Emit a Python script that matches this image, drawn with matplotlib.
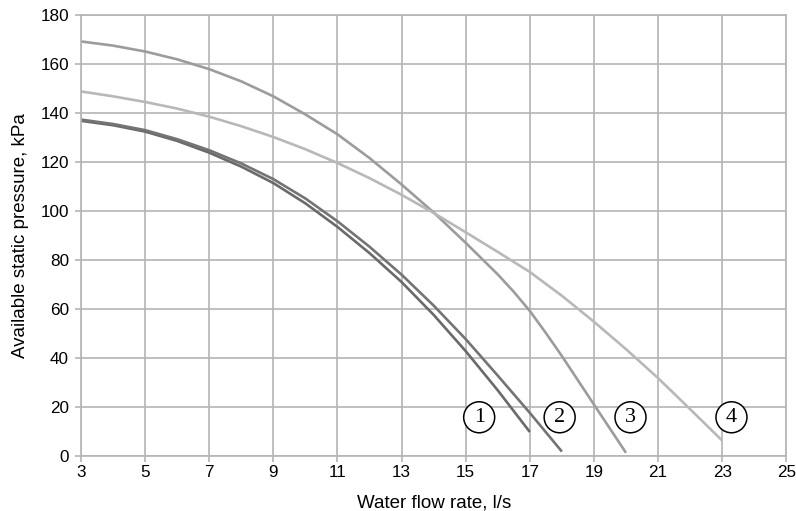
import matplotlib
matplotlib.use("Agg")
import matplotlib.pyplot as plt

# Caudal de agua (l/s) y presion estatica disponible (kPa)
flow_1 = [3, 4, 5, 6, 7, 8, 9, 10, 11, 12, 13, 14, 15, 16, 17]
pres_1 = [137, 135.2, 132.6, 128.8, 124, 118.3, 111.6, 103.3, 93.7, 83, 71.2, 57.8, 43, 27, 10]

flow_2 = [3, 4, 5, 6, 7, 8, 9, 10, 11, 12, 13, 14, 15, 16, 17, 18]
pres_2 = [137.5, 135.7, 133.2, 129.5, 125, 119.6, 113.2, 105.3, 96, 85.6, 74.2, 61.6, 47.9,
          33, 17.8, 2]

flow_3 = [3, 4, 5, 6, 7, 8, 9, 10, 11, 12, 13, 14, 15, 16, 16.5, 17, 17.5, 18, 19, 20]
pres_3 = [169.4, 167.7, 165.3, 162.1, 158.1, 153.1, 147, 139.6, 131.5, 121.8, 111, 99.6, 87.2,
          74.3, 67.2, 59.4, 50.4, 41, 21.2, 1.5]

flow_4 = [3, 4, 5, 6, 7, 8, 9, 10, 11, 12, 13, 14, 15, 16, 17, 18, 19, 20, 21, 22, 23]
pres_4 = [149, 147, 144.7, 142, 138.7, 134.8, 130.4, 125.4, 119.8, 113.6, 106.8, 99.4, 91.5,
          83.5, 75.3, 65.6, 55, 43.8, 32, 19.3, 6.5]

curve_labels = ["1", "2", "3", "4"]
label_x = [15.42, 17.93, 20.14, 23.29]
label_y = [16, 16, 16, 16]

x_ticks = list(range(3, 26, 2))
y_ticks = list(range(0, 181, 20))

plt.rcParams['font.family'] = ['Liberation Sans', 'DejaVu Sans']

fig = plt.figure(figsize=(7.96, 5.11), dpi=100)
ax = fig.add_axes([0.1018, 0.1067, 0.886, 0.863])

grid_col = "#b4b4b4"
ax.plot(flow_1, pres_1, color="#6a6a6a", lw=1.9, solid_capstyle="butt")
ax.plot(flow_2, pres_2, color="#747474", lw=1.9, solid_capstyle="butt")
ax.plot(flow_3, pres_3, color="#9c9c9c", lw=1.9, solid_capstyle="butt")
ax.plot(flow_4, pres_4, color="#b8b8b8", lw=1.9, solid_capstyle="butt")

for t, xx, yy in zip(curve_labels, label_x, label_y):
    ax.text(xx, yy, t, ha="center", va="center", fontsize=16, family="Liberation Serif",
            bbox=dict(boxstyle="circle,pad=0.27", fc="white", ec="black", lw=1.1), zorder=5)

ax.set_xlim(3, 25)
ax.set_ylim(0, 180)
ax.set_xticks(x_ticks)
ax.set_yticks(y_ticks)
ax.grid(True, color=grid_col, lw=1.2)
ax.set_axisbelow(True)
for s in ax.spines.values():
    s.set_color(grid_col)
    s.set_linewidth(1.2)
ax.tick_params(length=4.3, width=1.2, color=grid_col, labelsize=12.3)
ax.tick_params(axis="y", pad=4.3)
ax.tick_params(axis="x", pad=2)

ax.set_xlabel("Water flow rate, l/s", fontsize=13.5, labelpad=10)
ax.set_ylabel("Available static pressure, kPa", fontsize=13.5, labelpad=8)

plt.savefig("out.png", dpi=100)
